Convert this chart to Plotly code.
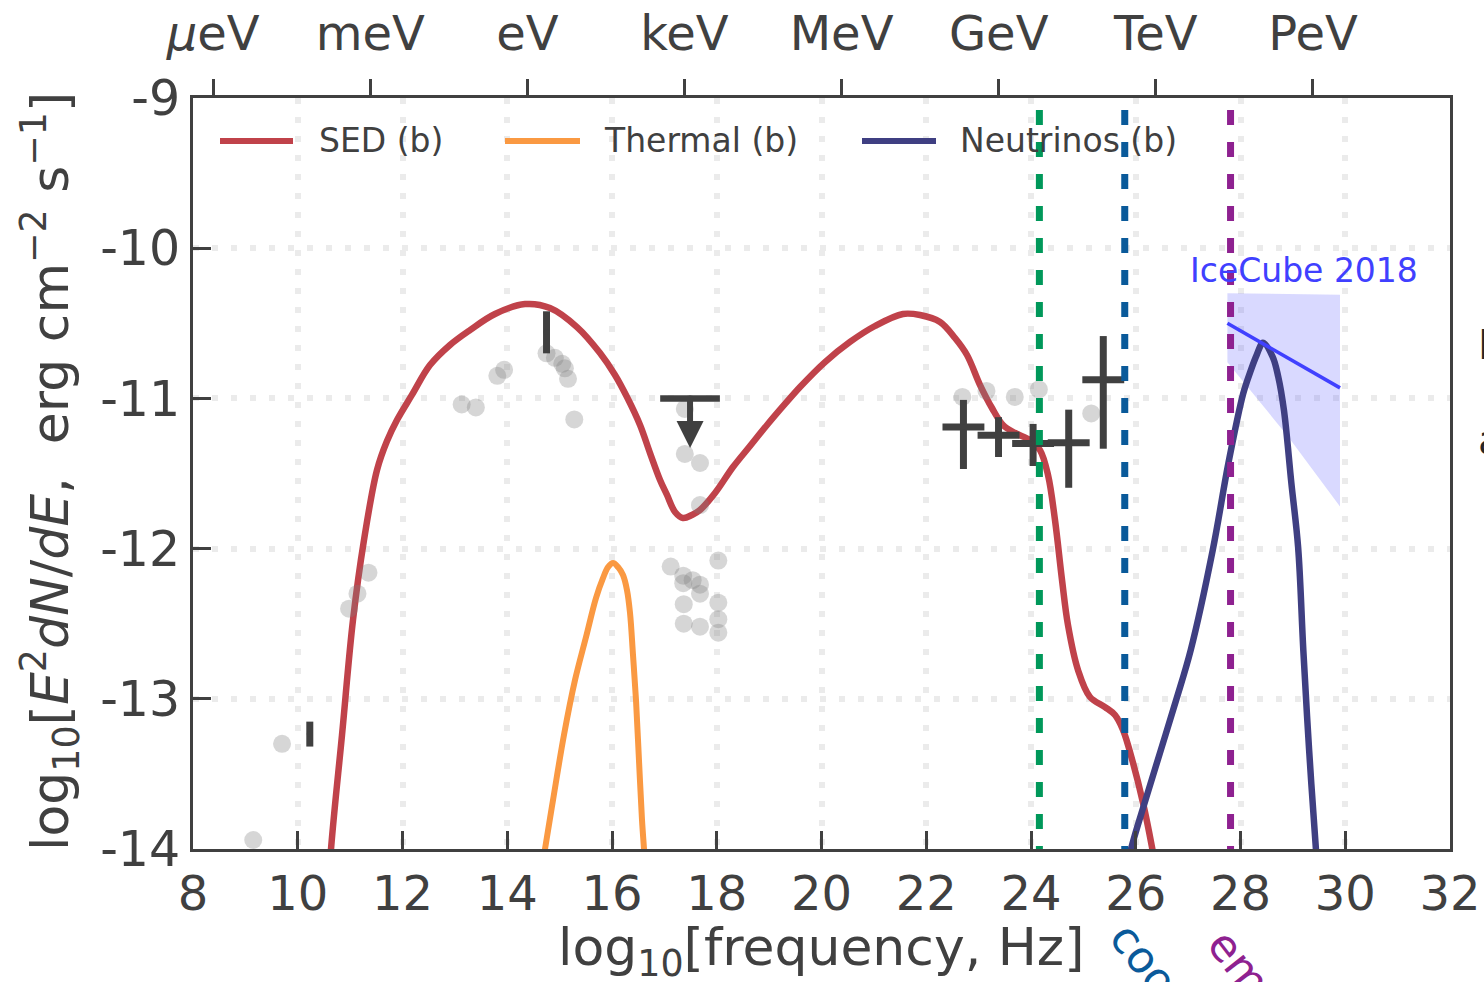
import numpy as np
import plotly.graph_objects as go

# ---------------------------------------------------------------------------
# Figure geometry (pixels)
W, H = 1484, 982
ML, MR, MT, MB = 193, 34, 98, 133
PW, PH = W - ML - MR, H - MT - MB

INK = "#404040"
GRID = "#ebebeb"
RED = "#c0424a"
ORANGE = "#fa9942"
NAVY = "#3f3f82"
ICE = "#4040ff"
GREEN = "#00985a"
BLUE = "#0a5a9a"
PURPLE = "#8e2190"

# ---------------------------------------------------------------------------
# Model curves: log10(frequency / Hz) vs log10(E^2 dN/dE / erg cm^-2 s^-1)
sed_logf = [10.40, 10.635, 10.845, 11.055, 11.265, 11.513, 11.704, 11.895, 12.18, 12.525,
            12.907, 13.289, 13.766, 14.339, 14.816, 15.332, 15.771, 16.057, 16.286, 16.535,
            16.726, 16.917, 17.05, 17.203, 17.356, 17.527, 17.68, 17.967, 18.31, 18.635,
            18.96, 19.303, 19.59, 20.067, 20.544, 21.021, 21.556, 21.881, 22.263, 22.549,
            22.778, 23.027, 23.255, 23.465, 23.695, 23.981, 24.172, 24.325, 24.458, 24.592,
            24.706, 24.897, 25.126, 25.413, 25.604, 25.757, 25.948, 26.139, 26.31, 26.387]
sed_logflux = [-15.20, -14.0, -13.241, -12.475, -11.943, -11.477, -11.284, -11.144, -10.977, -10.778,
               -10.644, -10.545, -10.438, -10.372, -10.398, -10.525, -10.698, -10.844, -10.991, -11.177,
               -11.364, -11.543, -11.643, -11.756, -11.796, -11.776, -11.743, -11.630, -11.457, -11.317,
               -11.177, -11.037, -10.924, -10.758, -10.624, -10.518, -10.438, -10.445, -10.491, -10.598,
               -10.711, -10.911, -11.064, -11.177, -11.230, -11.277, -11.344, -11.510, -11.810, -12.209,
               -12.509, -12.808, -12.988, -13.055, -13.108, -13.208, -13.427, -13.694, -13.987, -14.14]

thermal_logf = [14.663, 14.721, 14.874, 15.083, 15.294, 15.504, 15.694, 15.828, 15.924, 16.02,
                16.115, 16.21, 16.286, 16.344, 16.401, 16.458, 16.515, 16.573, 16.611, 16.649]
thermal_logflux = [-14.14, -14.0, -13.674, -13.241, -12.875, -12.589, -12.329, -12.196, -12.123, -12.096,
                   -12.123, -12.176, -12.276, -12.429, -12.708, -13.008, -13.408, -13.807, -14.0, -14.206]

nu_logf = [25.70, 25.91, 26.19, 26.48, 26.77, 27.05, 27.47, 27.77, 28.05, 28.19,
           28.31, 28.43, 28.61, 28.72, 28.83, 28.97, 29.10, 29.20, 29.31, 29.44, 29.52]
nu_logflux = [-14.35, -14.0, -13.67, -13.34, -13.01, -12.675, -12.01, -11.43, -10.97, -10.82,
              -10.71, -10.63, -10.72, -10.855, -11.08, -11.56, -11.99, -12.68, -13.34, -14.0, -14.34]

# ---------------------------------------------------------------------------
# Archival photometry (grey)
arch_logf = [9.15, 9.70, 10.98, 11.14, 11.35, 13.13, 13.40, 13.81, 13.94, 14.75,
             14.91, 15.05, 15.10, 15.16, 15.28, 17.39, 17.39, 17.68, 17.68, 17.12,
             17.36, 17.36, 17.54, 17.68, 17.68, 18.03, 17.37, 18.03, 17.37, 17.68,
             18.03, 18.03, 22.69, 23.15, 23.69, 24.15, 25.15]
arch_logflux = [-13.94, -13.30, -12.40, -12.30, -12.16, -11.04, -11.06, -10.85, -10.81, -10.70,
                -10.73, -10.77, -10.80, -10.87, -11.14, -11.07, -11.37, -11.43, -11.71, -12.12,
                -12.18, -12.23, -12.21, -12.24, -12.30, -12.08, -12.37, -12.36, -12.50, -12.52,
                -12.47, -12.56, -10.99, -10.95, -10.99, -10.94, -11.10]

# Gamma-ray spectrum with errors
gam_logf = [22.71, 23.38, 24.04, 24.72, 25.38]
gam_logflux = [-11.19, -11.245, -11.30, -11.295, -10.875]
gam_xerr = [0.40, 0.40, 0.40, 0.40, 0.40]
gam_yerr_up = [0.18, 0.12, 0.13, 0.22, 0.29]
gam_yerr_dn = [0.28, 0.145, 0.15, 0.30, 0.46]

# Radio and optical measurements
bar_logf = [10.23, 14.75]
bar_logflux = [-13.235, -10.56]
bar_yerr = [0.083, 0.14]

# X-ray upper limit
ul_logf = [17.49]
ul_logflux = [-11.0]
ul_xerr = [0.57]
ul_tip = [-11.33]

# IceCube 2018 flux and its uncertainty band
ic_logf = [27.75, 29.90]
ic_logflux = [-10.50, -10.93]
ic_band_logf = [27.75, 28.90, 29.90]
ic_band_hi = [-10.30, -10.305, -10.31]
ic_band_lo = [-10.76, -11.25, -11.72]

# Characteristic frequencies
vline_logf = [24.16, 25.79, 27.81]
vline_colors = [GREEN, BLUE, PURPLE]

# Axis ticks
x_ticks = list(range(8, 33, 2))
y_ticks = [-14, -13, -12, -11, -10, -9]
y_ticktext = ["-14", "-13", "-12", "-11", "-10", "-9"]
energy_ev = [1e-6, 1e-3, 1e0, 1e3, 1e6, 1e9, 1e12, 1e15]
energy_labels = ["<i>μ</i>eV", "meV", "eV", "keV", "MeV", "GeV", "TeV", "PeV"]
EV_TO_HZ = 2.417989e14
energy_logf = [float(np.log10(e * EV_TO_HZ)) for e in energy_ev]


def px(xp, yp):
    """pixel position -> paper coordinates"""
    return (xp - ML) / PW, (MT + PH - yp) / PH


fig = go.Figure()

# IceCube band
band_x = ic_band_logf + ic_band_logf[::-1]
band_y = ic_band_hi + ic_band_lo[::-1]
fig.add_trace(go.Scatter(x=band_x, y=band_y, mode="lines", fill="toself",
                         fillcolor="rgba(64,64,255,0.2)", line=dict(width=0),
                         hoverinfo="skip"))

# model curves
fig.add_trace(go.Scatter(x=sed_logf, y=sed_logflux, mode="lines",
                         line=dict(color=RED, width=6.5, shape="spline", smoothing=1.0),
                         name="SED (b)"))
fig.add_trace(go.Scatter(x=thermal_logf, y=thermal_logflux, mode="lines",
                         line=dict(color=ORANGE, width=6, shape="spline", smoothing=1.0),
                         name="Thermal (b)"))
fig.add_trace(go.Scatter(x=nu_logf, y=nu_logflux, mode="lines",
                         line=dict(color=NAVY, width=6.5, shape="spline", smoothing=1.0),
                         name="Neutrinos (b)"))

# IceCube best-fit line
fig.add_trace(go.Scatter(x=ic_logf, y=ic_logflux, mode="lines",
                         line=dict(color=ICE, width=3.5)))

# archival data
fig.add_trace(go.Scatter(x=arch_logf, y=arch_logflux, mode="markers",
                         marker=dict(size=18, color="rgba(128,128,128,0.32)", line=dict(width=0))))

# gamma-ray spectrum
fig.add_trace(go.Scatter(
    x=gam_logf, y=gam_logflux, mode="markers", marker=dict(size=0, color=INK),
    error_x=dict(type="data", array=gam_xerr, thickness=7, width=0, color=INK),
    error_y=dict(type="data", symmetric=False, array=gam_yerr_up, arrayminus=gam_yerr_dn,
                 thickness=7, width=0, color=INK)))

# radio / optical bars
fig.add_trace(go.Scatter(
    x=bar_logf, y=bar_logflux, mode="markers", marker=dict(size=0, color=INK),
    error_y=dict(type="data", array=bar_yerr, thickness=7, width=0, color=INK)))

# X-ray upper limit bar
fig.add_trace(go.Scatter(
    x=ul_logf, y=ul_logflux, mode="markers", marker=dict(size=0, color=INK),
    error_x=dict(type="data", array=ul_xerr, thickness=6.5, width=0, color=INK)))

# vertical dashed markers
for xv, col in zip(vline_logf, vline_colors):
    fig.add_trace(go.Scatter(x=[xv, xv], y=[-8.867, -14.0], mode="lines",
                             line=dict(color=col, width=7, dash="15px,17px")))

# dummy trace for the energy axis
fig.add_trace(go.Scatter(x=[8, 32], y=[-20, -20], xaxis="x2", mode="lines",
                         line=dict(width=0), hoverinfo="skip"))

annotations = []
shapes = []

# upper-limit arrow
for xv, y0, y1 in zip(ul_logf, ul_logflux, ul_tip):
    annotations.append(dict(x=xv, y=y1, ax=xv, ay=y0, xref="x", yref="y",
                            axref="x", ayref="y", text="", showarrow=True,
                            arrowhead=2, arrowsize=0.9, arrowwidth=6, arrowcolor=INK,
                            standoff=0, startstandoff=0))

# IceCube label
annotations.append(dict(x=26.99, y=-10.15, xref="x", yref="y", text="IceCube 2018",
                        showarrow=False, xanchor="left", yanchor="middle",
                        font=dict(size=33, color=ICE)))

# legend (drawn by hand)
legend_items = [("SED (b)", RED, 220, 293, 317),
                ("Thermal (b)", ORANGE, 505, 580, 602),
                ("Neutrinos (b)", NAVY, 862, 936, 958)]
for label, col, x0p, x1p, xtp in legend_items:
    a0, b0 = px(x0p, 141)
    a1, _ = px(x1p, 141)
    shapes.append(dict(type="line", xref="paper", yref="paper", x0=a0, x1=a1, y0=b0, y1=b0,
                       line=dict(color=col, width=6)))
    at, bt = px(xtp, 141)
    annotations.append(dict(x=at, y=bt, xref="paper", yref="paper", text=label,
                            showarrow=False, xanchor="left", yanchor="middle",
                            font=dict(size=33, color=INK)))

# axis titles
ax_, ay_ = px(821, 951)
annotations.append(dict(x=ax_, y=ay_, xref="paper", yref="paper",
                        text="log<sub>10</sub>[frequency, Hz]", showarrow=False,
                        xanchor="center", yanchor="middle", font=dict(size=52, color=INK)))
bx_, by_ = px(50, 472)
annotations.append(dict(x=bx_, y=by_, xref="paper", yref="paper", textangle=-90,
                        text="log<sub>10</sub>[<i>E</i><sup>2</sup><i>dN</i>/<i>dE</i>,\u00a0 erg cm<sup>−2</sup> s<sup>−1</sup>]",
                        showarrow=False, xanchor="center", yanchor="middle",
                        font=dict(size=52, color=INK)))

# rotated labels below the axis
for txt, col, xp_, yp_ in [("cooling break", BLUE, 1097, 910), ("emission cutoff", PURPLE, 1195, 917)]:
    cx, cy = px(xp_, yp_)
    annotations.append(dict(x=cx, y=cy, xref="paper", yref="paper", text=txt,
                            showarrow=False, textangle=52, xanchor="left", yanchor="top",
                            font=dict(size=44, color=col)))

# partially visible text at the right margin
for txt, yp_ in [("E", 345), ("a", 440)]:
    cx, cy = px(1476, yp_)
    annotations.append(dict(x=cx, y=cy, xref="paper", yref="paper", text=txt,
                            showarrow=False, xanchor="left", yanchor="middle",
                            font=dict(size=40, color="#262626")))

axis_common = dict(showline=True, linecolor=INK, linewidth=3, zeroline=False,
                   tickcolor=INK, tickwidth=3, ticklen=18)

fig.update_layout(
    width=W, height=H, autosize=False,
    margin=dict(l=ML, r=MR, t=MT, b=MB, autoexpand=False),
    paper_bgcolor="white", plot_bgcolor="white",
    font=dict(family="DejaVu Sans", color=INK, size=48),
    showlegend=False,
    xaxis=dict(range=[8, 32], tickvals=x_ticks, ticks="inside", mirror=True,
               showgrid=True, gridcolor=GRID, gridwidth=6, griddash="6px,13px",
               tickfont=dict(size=48, color=INK), ticklabelstandoff=0, **axis_common),
    yaxis=dict(range=[-14, -9], tickvals=y_ticks, ticktext=y_ticktext, ticks="inside",
               mirror=True, showgrid=True, gridcolor=GRID, gridwidth=6, griddash="6px,13px",
               tickfont=dict(size=49, color=INK), ticklabelstandoff=0, **axis_common),
    xaxis2=dict(range=[8, 32], overlaying="x", side="top", tickvals=energy_logf,
                ticktext=energy_labels, ticks="outside", showgrid=False,
                tickfont=dict(size=48, color=INK), ticklabelstandoff=10,
                showline=False, zeroline=False, tickcolor=INK, tickwidth=3, ticklen=18),
    annotations=annotations,
    shapes=shapes,
)

fig.write_html("out.html")
